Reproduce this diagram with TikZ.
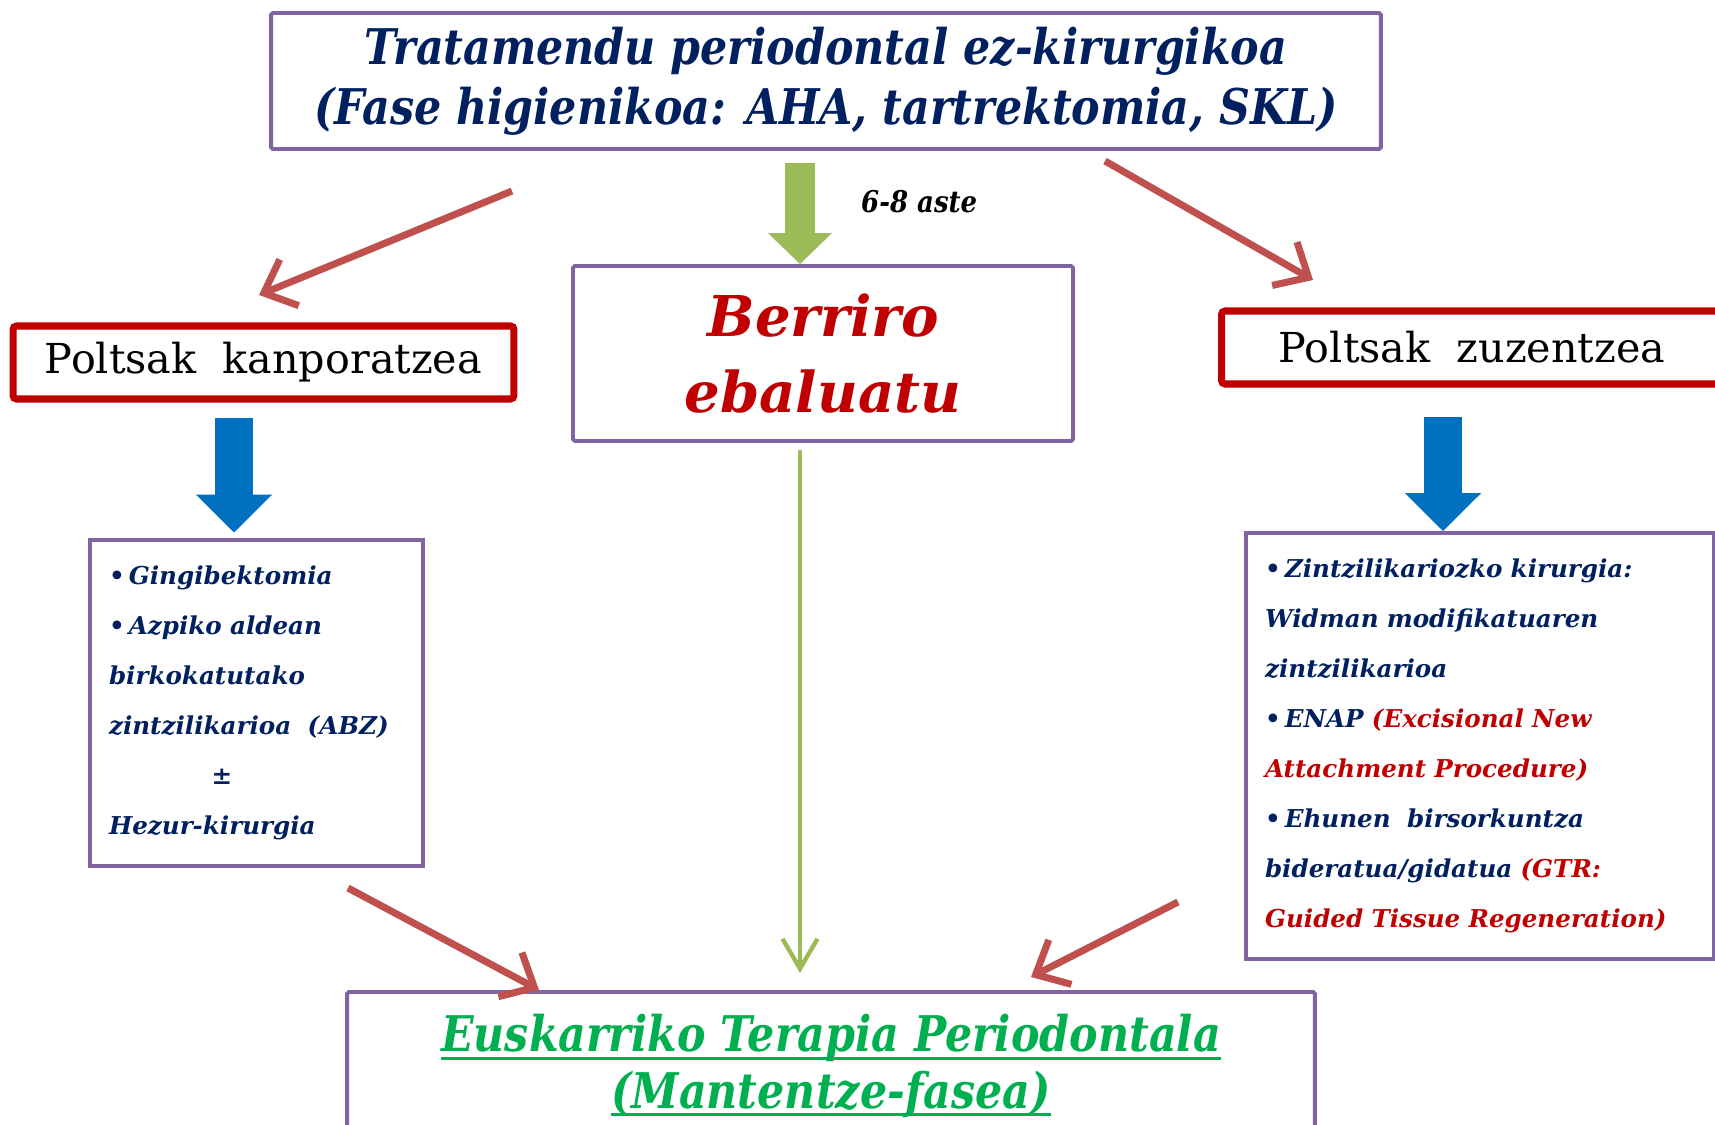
\documentclass[tikz,border=0pt]{standalone}
\usepackage{fontspec}
\setmainfont{DejaVu Serif}
\newfontfamily\slabcond{DejaVu Serif}[FakeStretch=0.87]
\usepackage{xcolor}
\usepackage{tikz}
\usetikzlibrary{arrows.meta, positioning}

\definecolor{navy}{HTML}{002060}
\definecolor{darkred}{HTML}{C00000}
\definecolor{boxpurple}{HTML}{8064A2}
\definecolor{arrowred}{HTML}{C0504D}
\definecolor{arrowgreen}{HTML}{9BBB59}
\definecolor{arrowblue}{HTML}{0070C0}
\definecolor{textgreen}{HTML}{00B050}

\newsavebox\ulbox
\newcommand\greenul[1]{\sbox\ulbox{#1}\rlap{\rule[-0.17em]{\wd\ulbox}{0.075em}}\usebox\ulbox}

\begin{document}
\begin{tikzpicture}[
    x=0.02cm, y=-0.02cm,
    phasebox/.style={rectangle, draw=boxpurple, line width=2.2pt, fill=white, rounded corners=1pt, align=center},
    pocketbox/.style={rectangle, draw=darkred, line width=4pt, fill=white, rounded corners=2pt, minimum width=10.02cm, minimum height=1.46cm, font=\fontsize{23.5}{27}\selectfont},
    listbox/.style={rectangle, draw=boxpurple, line width=2.2pt, fill=white, align=left, inner xsep=0.38cm, text=navy, font=\fontsize{14}{28.5}\selectfont\bfseries\itshape},
    redarrow/.style={draw=arrowred, line width=4pt, -{Straight Barb[length=0.55cm, width=1cm]}},
    greenline/.style={draw=arrowgreen, line width=2.5pt, -{Straight Barb[length=0.6cm, width=0.7cm]}},
    greenblock/.style={draw=arrowgreen, line width=0.6cm, -{Triangle[length=0.62cm, width=1.24cm]}},
    blueblock/.style={draw=arrowblue, line width=0.76cm, -{Triangle[length=0.76cm, width=1.48cm]}}
]
\clip (0,0) rectangle (1715,1125);

% Phases
\node[phasebox, minimum width=22.2cm, minimum height=2.72cm, text=navy,
      font=\slabcond\fontsize{28}{34}\selectfont\bfseries\itshape] (tratamendu) at (826,81)
      {Tratamendu periodontal ez-kirurgikoa\\(Fase higienikoa: AHA, tartrektomia, SKL)};
\node[phasebox, minimum width=10cm, minimum height=3.5cm, text=darkred,
      font=\fontsize{32}{43}\selectfont\bfseries\itshape] (berriro) at (823,353.5)
      {Berriro\\ebaluatu};
\node[phasebox, minimum width=19.36cm, minimum height=2.96cm, text=textgreen,
      font=\slabcond\fontsize{28}{32}\selectfont\bfseries\itshape] (mantentze) at (831,1066)
      {\greenul{Euskarriko Terapia Periodontala}\\\greenul{(Mantentze-fasea)}};

% Pockets
\node[pocketbox] (kanpo) at (263.5,362.5) {Poltsak\ \ kanporatzea};
\node[pocketbox] (zuzen) at (1472,347.5) {Poltsak\ \ zuzentzea};

% Surgery lists
\node[listbox, text width=5.9cm, minimum height=6.52cm] (kanpolist) at (256.5,703)
      {•\,Gingibektomia\\
       •\,Azpiko aldean\\
       birkokatutako\\
       zintzilikarioa\ \ (ABZ)\\
       \hspace*{2.05cm}±\\
       Hezur-kirurgia};
\node[listbox, text width=8.6cm, minimum height=8.52cm] (zuzenlist) at (1480,746)
      {•\,Zintzilikariozko kirurgia:\\
       Widman modifikatuaren\\
       zintzilikarioa\\
       •\,ENAP {\color{darkred}(Excisional New}\\
       {\color{darkred}Attachment Procedure)}\\
       •\,Ehunen\ \ birsorkuntza\\
       bideratua/gidatua {\color{darkred}(GTR:}\\
       {\color{darkred}Guided Tissue Regeneration)}};

% Axes and arrow ends
\coordinate (axis) at (800,0);
\coordinate (leftaxis) at (234,0);
\coordinate (rightaxis) at (1443,0);
\coordinate (kanpofrom) at (512,191);
\coordinate (kanpoto) at (259,295);
\coordinate (zuzenfrom) at (1105,161);
\coordinate (zuzento) at (1313,280);
\coordinate (kanpoend) at (348,888);
\coordinate (zuzenend) at (1178,902);
\coordinate (mantleft) at (539,990);
\coordinate (mantright) at (1031,977);

% Arrows
\draw[greenblock, shorten <=0.24cm] (tratamendu.south -| axis) -- (berriro.north -| axis);
\node[font=\slabcond\fontsize{17}{20}\selectfont\bfseries\itshape, right=1.1cm of berriro.north -| axis, yshift=1.25cm] (aste) {6-8 aste};
\draw[greenline, shorten <=0.14cm, shorten >=0.34cm] (berriro.south -| axis) -- (mantentze.north -| axis);
\draw[blueblock, shorten <=0.3cm, shorten >=0.11cm] (kanpo.south -| leftaxis) -- (kanpolist.north -| leftaxis);
\draw[blueblock, shorten <=0.58cm, shorten >=0cm] (zuzen.south -| rightaxis) -- (zuzenlist.north -| rightaxis);
\draw[redarrow] (kanpofrom) -- (kanpoto);
\draw[redarrow] (zuzenfrom) -- (zuzento);
\draw[redarrow] (kanpoend) -- (mantleft);
\draw[redarrow] (zuzenend) -- (mantright);

\end{tikzpicture}
\end{document}
